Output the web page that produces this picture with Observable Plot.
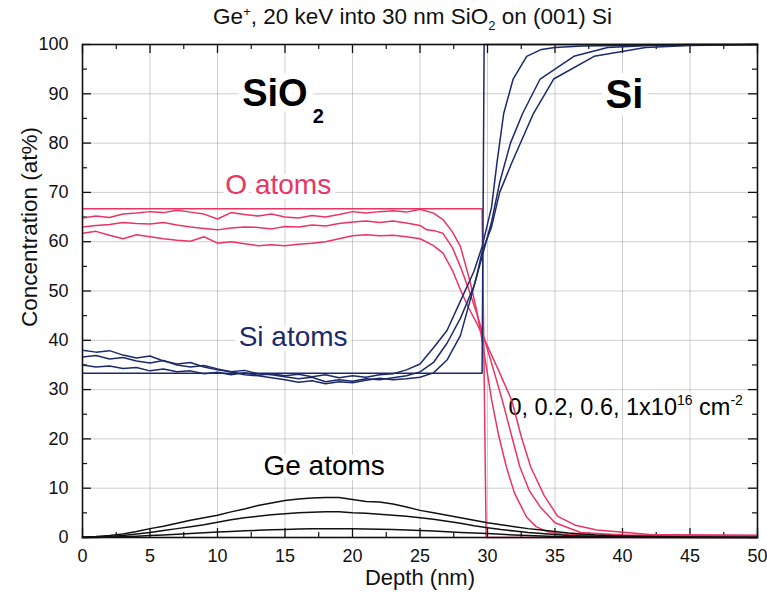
<!DOCTYPE html>
<html>
<head>
<meta charset="utf-8">
<script src="https://cdn.jsdelivr.net/npm/d3@7"></script>
<script src="https://cdn.jsdelivr.net/npm/@observablehq/plot@0.6"></script>
<style>
  html, body { margin: 0; padding: 0; background: #fff; }
  #title { height: 34px; line-height: 34px; width: 767px; box-sizing: border-box; padding-left: 58px; text-align: center;
           font-family: "Liberation Sans", Arial, sans-serif; font-size: 22.5px; color: #111; white-space: nowrap; }
  #title sup, #title sub { font-size: 13px; line-height: 0; }
</style>
</head>
<body>
<div id="title">Ge<sup>+</sup>, 20 keV into 30 nm SiO<sub>2</sub> on (001) Si</div>
<div id="chart"></div>
<script>
// ---------- data ----------
const xTicks = [0, 5, 10, 15, 20, 25, 30, 35, 40, 45, 50];
const yTicks = [0, 10, 20, 30, 40, 50, 60, 70, 80, 90, 100];
const xMinor = [2.5, 7.5, 12.5, 17.5, 22.5, 27.5, 32.5, 37.5, 42.5, 47.5];
const yMinor = [5, 15, 25, 35, 45, 55, 65, 75, 85, 95];

const doses = ["0", "0.2", "0.6", "1"];

// O atoms (at%)
const oDepth0 = [0, 29.6, 29.9, 50];
const oConc0  = [66.7, 66.7, 0, 0];
const oDepth02 = [0,1,2,3,4,5,6,7,8,9,10,11,12,13,14,15,16,17,18,19,20,21,22,23,24,25,26,26.7,27.4,28,28.7,29.2,29.6,30.3,30.8,31.4,32,32.9,33.6,34.4,35.5,37,40,45,50];
const oConc02  = [64.8,65.2,64.9,65.6,65.8,66.1,65.9,66.4,66.0,65.6,64.6,65.9,65.5,65.2,65.6,65.0,64.8,65.3,65.0,65.5,66.1,65.8,66.1,66.3,66.0,66.6,65.8,64.5,62,59,52,46,40,28,21,14.3,9,4.1,2.2,1.2,0.7,0.5,0.4,0.4,0.4];
const oDepth06 = [0,1,2,3,4,5,6,7,8,9,10,11,12,13,14,15,16,17,18,19,20,21,22,23,24,25,25.5,26.1,26.7,27.4,28,28.6,29.2,29.8,30.5,31.1,31.8,32.4,33.1,33.9,35,36.9,40,45,50];
const oConc06  = [63.0,63.3,63.5,63.9,63.7,63.6,63.9,63.4,63.0,62.7,62.4,62.8,63.0,62.9,62.6,63.1,63.0,63.4,63.2,63.7,64.0,64.2,63.9,64.2,63.8,63.3,62.4,62.2,61.7,58.8,54.9,50.4,45.5,40,33.5,27.8,20.5,14.3,9.5,6.2,3.0,1.0,0.5,0.4,0.4];
const oDepth10 = [0,1,2,3,4,5,6,7,8,9,10,11,12,13,14,15,16,17,18,19,20,21,22,23,24,25,25.3,26,26.7,27.4,28,28.6,29.2,29.8,30.8,31.8,32.5,33.2,34.2,35.2,36.5,38.1,42,50];
const oConc10  = [61.7,62.1,61.3,60.6,61.4,61.0,60.6,60.3,60.1,61.0,59.7,60.0,59.6,59.2,59.4,59.2,59.5,59.7,60.0,60.6,61.2,61.4,61.2,61.3,61.0,60.6,60.2,59.2,57.7,54.2,50.2,46.6,43.5,40,34,27.8,20.5,14.3,8.5,4.3,2.5,1.5,0.6,0.4];

// Si atoms (at%)
const siDepth0 = [0, 29.6, 29.75, 50];
const siConc0  = [33.3, 33.3, 100, 100];
const siDepthA = [0,1,2,3,4,5,6,7,8,9,10,11,12,13,14,15,16,17,18,19,20,21,22,23,24,25,26,27,28,29,29.6,30.3,30.7,31.2,31.9,32.9,34,35,37,40,45,50];
const siConcA  = [35.0,34.6,34.8,34.3,34.5,33.8,34.2,33.6,33.8,33.2,33.5,33.0,33.4,32.9,33.2,32.8,33.1,32.6,33.0,32.4,32.8,32.5,33.0,33.2,34.0,35.2,38.5,42,48,54,59,67,76,86,93,97.6,99,99.4,99.7,99.8,100,100];
const siDepthB = [0,1,2,3,4,5,6,7,8,9,10,11,12,13,14,15,16,17,18,19,20,21,22,23,24,25,26,27,28,29,29.6,30.3,30.9,31.7,32.6,33.9,36.4,38.9,42,50];
const siConcB  = [36.6,36.9,36.2,36.5,35.8,35.4,35.9,35.0,34.6,34.9,34.2,33.6,33.9,33.2,33.0,32.6,32.2,32.5,31.6,32.0,31.7,32.2,32.0,32.4,32.8,33.6,35.5,39.4,44.5,51,57,64,72,80,86,93,97.6,99.4,99.8,100];
const siDepthC = [0,1,2,3,4,5,6,7,8,9,10,11,12,13,14,15,16,17,18,19,20,21,22,23,24,25,26,27,28,28.7,29.2,29.6,30.3,30.9,31.8,33.4,34.9,37.9,41.7,45,50];
const siConcC  = [38.0,37.6,37.9,37.0,36.4,36.8,35.8,35.2,35.5,34.6,34.0,33.6,33.0,32.8,32.4,32.0,31.5,31.8,31.2,31.6,31.4,31.9,32.3,32.0,32.2,32.5,33.4,36,41,48,53,58,63,70,76,86,93,97.6,99.4,99.8,100];

// Ge atoms (at%)
const geDepth = [0,1,2,3,4,5,6,7,8,9,10,11,12,13,14,15,16,17,18,19,20,21,22,23,24,25,26,27,28,29,30,31,32,33,34,35,36,38,40,45,50];
const geConc02 = [0,0,0.1,0.15,0.25,0.4,0.5,0.65,0.8,0.95,1.1,1.2,1.35,1.45,1.55,1.6,1.7,1.75,1.8,1.8,1.75,1.7,1.65,1.6,1.5,1.4,1.3,1.15,1.0,0.9,0.8,0.65,0.5,0.4,0.3,0.2,0.15,0.1,0.05,0,0];
const geConc06 = [0,0.1,0.2,0.4,0.7,1.0,1.4,1.8,2.2,2.6,3.1,3.6,4.0,4.3,4.6,4.8,5.0,5.1,5.2,5.2,5.0,4.9,4.7,4.5,4.3,4.0,3.7,3.3,2.9,2.4,2.0,1.6,1.3,1.0,0.8,0.6,0.4,0.2,0.1,0.05,0];
const geConc10 = [0.1,0.2,0.4,0.7,1.2,1.8,2.3,2.9,3.5,4.0,4.5,5.2,5.8,6.5,7.0,7.5,7.8,8.0,8.1,8.1,7.7,7.3,7.2,6.8,6.2,5.5,5.0,4.5,4.0,3.5,3.0,2.6,2.2,1.8,1.5,1.2,0.9,0.5,0.3,0.1,0.05];

// ---------- build table ----------
const series = [
  {element: "O",  dose: "0",   depth: oDepth0,  conc: oConc0},
  {element: "O",  dose: "0.2", depth: oDepth02, conc: oConc02},
  {element: "O",  dose: "0.6", depth: oDepth06, conc: oConc06},
  {element: "O",  dose: "1",   depth: oDepth10, conc: oConc10},
  {element: "Si", dose: "0",   depth: siDepth0, conc: siConc0},
  {element: "Si", dose: "0.2", depth: siDepthA, conc: siConcA},
  {element: "Si", dose: "0.6", depth: siDepthB, conc: siConcB},
  {element: "Si", dose: "1",   depth: siDepthC, conc: siConcC},
  {element: "Ge", dose: "0.2", depth: geDepth,  conc: geConc02},
  {element: "Ge", dose: "0.6", depth: geDepth,  conc: geConc06},
  {element: "Ge", dose: "1",   depth: geDepth,  conc: geConc10}
];
const rows = series.flatMap(s => s.depth.map((d, i) => ({element: s.element, dose: s.dose, key: s.element + s.dose, depth: d, conc: s.conc[i]})));

const colors = {O: "#ec3463", Si: "#1c2a6b", Ge: "#111111"};
const DOSE_LABEL = "0, 0.2, 0.6, 1x10^16 cm^-2";

const W = 767, H = 566, mL = 82, mR = 10, mT = 10, mB = 63;
const innerW = W - mL - mR, innerH = H - mT - mB;
const font = "'Liberation Sans', Arial, Helvetica, sans-serif";
const halo = {stroke: "white", strokeWidth: 10, paintOrder: "stroke", strokeLinejoin: "round"};

const svg = Plot.plot({
  width: W, height: H,
  marginLeft: mL, marginRight: mR, marginTop: mT, marginBottom: mB,
  style: {fontFamily: font, fontSize: "18px", color: "#111", background: "white"},
  x: {domain: [0, 50], label: null},
  y: {domain: [0, 100], label: null},
  marks: [
    Plot.gridX(xTicks.slice(1, -1), {stroke: "#999", strokeOpacity: 0.6, strokeWidth: 0.8}),
    Plot.gridY(yTicks.slice(1, -1), {stroke: "#999", strokeOpacity: 0.6, strokeWidth: 0.8}),
    // inward ticks
    Plot.tickX(xTicks, {x: d => d, insetTop: innerH - 9, stroke: "#111", strokeWidth: 1.3}),
    Plot.tickX(xTicks, {x: d => d, insetBottom: innerH - 9, stroke: "#111", strokeWidth: 1.3}),
    Plot.tickX(xMinor, {x: d => d, insetTop: innerH - 5, stroke: "#111", strokeWidth: 1.2}),
    Plot.tickX(xMinor, {x: d => d, insetBottom: innerH - 5, stroke: "#111", strokeWidth: 1.2}),
    Plot.tickY(yTicks, {y: d => d, insetRight: innerW - 9, stroke: "#111", strokeWidth: 1.3}),
    Plot.tickY(yTicks, {y: d => d, insetLeft: innerW - 9, stroke: "#111", strokeWidth: 1.3}),
    Plot.tickY(yMinor, {y: d => d, insetRight: innerW - 5, stroke: "#111", strokeWidth: 1.2}),
    Plot.tickY(yMinor, {y: d => d, insetLeft: innerW - 5, stroke: "#111", strokeWidth: 1.2}),
    Plot.axisX({ticks: xTicks, tickSize: 0, tickPadding: 12, label: null, fontSize: 18}),
    Plot.axisY({ticks: yTicks, tickSize: 0, tickPadding: 14, label: null, fontSize: 18}),
    // axis titles
    Plot.text(["Depth (nm)"], {frameAnchor: "bottom", dy: 47, fontSize: 22, text: d => d}),
    Plot.text(["Concentration (at%)"], {frameAnchor: "left", y: [42.7], dx: -53, rotate: -90, fontSize: 22.5, text: d => d}),
    // annotations (white halo hides grid)
    Plot.text(["SiO"], {x: [11.83], y: [87.5], text: d => d, textAnchor: "start", lineAnchor: "bottom", fontSize: 38, fontWeight: "bold", fill: "#000", ...halo, strokeWidth: 14}),
    Plot.text(["2"], {x: [17.05], y: [84.1], text: d => d, textAnchor: "start", lineAnchor: "bottom", fontSize: 20, fontWeight: "bold", fill: "#000", ...halo}),
    Plot.text(["Si"], {x: [38.74], y: [87.1], text: d => d, textAnchor: "start", lineAnchor: "bottom", fontSize: 40, fontWeight: "bold", fill: "#000", ...halo, strokeWidth: 14}),
    Plot.text(["O atoms"], {x: [14.5], y: [71.4], text: d => d, fontSize: 28, fill: colors.O, ...halo}),
    Plot.text(["Si atoms"], {x: [15.6], y: [40.6], text: d => d, fontSize: 28, fill: colors.Si, ...halo}),
    Plot.text(["Ge atoms"], {x: [17.9], y: [14.4], text: d => d, fontSize: 28, fill: "#000", ...halo}),
    Plot.text([DOSE_LABEL], {x: [31.55], y: [24.8], text: d => d, textAnchor: "start", lineAnchor: "bottom", fontSize: 23.5, fill: "#000", stroke: "white", strokeWidth: 3, paintOrder: "stroke"}),
    // profiles
    Plot.line(rows, {x: "depth", y: "conc", z: "key", stroke: d => colors[d.element], strokeWidth: 1.5, curve: "linear"}),
    Plot.frame({stroke: "#111", strokeWidth: 1.6})
  ]
});

// superscripts in the dose label
d3.select(svg).selectAll("text").filter(function () { return this.textContent === DOSE_LABEL; }).each(function () {
  const t = d3.select(this);
  t.text(null);
  t.append("tspan").text("0, 0.2, 0.6, 1x10");
  t.append("tspan").attr("dy", -10).attr("font-size", 14).text("16");
  t.append("tspan").attr("dy", 10).text(" cm");
  t.append("tspan").attr("dy", -10).attr("font-size", 14).text("-2");
});

document.getElementById("chart").appendChild(svg);
</script>
</body>
</html>
